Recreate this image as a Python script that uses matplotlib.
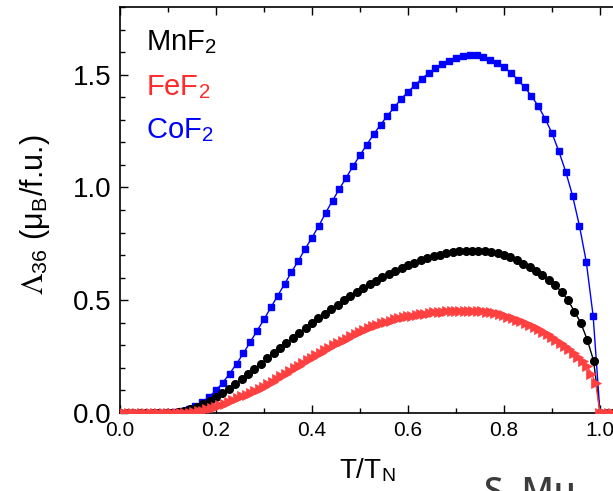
import numpy as np
import matplotlib
matplotlib.use("Agg")
import matplotlib.pyplot as plt
from matplotlib.ticker import MultipleLocator, FormatStrFormatter

plt.rcParams['font.family'] = ['Liberation Sans', 'DejaVu Sans']
plt.rcParams['mathtext.fontset'] = 'stix'

# CoF2 (blue squares), sampled every 1/70 in T/TN
cof2 = [0, 0, 0, 0, 0, 0, 0, 0.001, 0.003, 0.008,
        0.017, 0.030, 0.048, 0.072, 0.100, 0.135, 0.175, 0.218, 0.265, 0.315,
        0.365, 0.415, 0.468, 0.520, 0.572, 0.624, 0.675, 0.727, 0.778, 0.830,
        0.888, 0.942, 0.994, 1.044, 1.095, 1.143, 1.190, 1.236, 1.278, 1.318,
        1.355, 1.392, 1.424, 1.453, 1.482, 1.506, 1.528, 1.547, 1.562, 1.574,
        1.582, 1.585, 1.585, 1.578, 1.567, 1.553, 1.533, 1.508, 1.478, 1.444,
        1.406, 1.360, 1.305, 1.240, 1.160, 1.070, 0.963, 0.830, 0.670, 0.430,
        0, 0, 0]

# MnF2 (black circles), sampled every 1/75
mnf2 = [0, 0, 0, 0, 0, 0, 0, 0.001, 0.002, 0.005,
        0.010, 0.017, 0.027, 0.039, 0.053, 0.070, 0.088, 0.107, 0.128, 0.150,
        0.172, 0.195, 0.218, 0.242, 0.265, 0.288, 0.311, 0.333, 0.355, 0.377,
        0.398, 0.419, 0.440, 0.460, 0.480, 0.499, 0.518, 0.536, 0.553, 0.570,
        0.586, 0.601, 0.616, 0.630, 0.643, 0.655, 0.666, 0.677, 0.686, 0.695,
        0.702, 0.708, 0.713, 0.717, 0.719, 0.720, 0.720, 0.718, 0.714, 0.708,
        0.700, 0.690, 0.677, 0.662, 0.647, 0.630, 0.610, 0.590, 0.567, 0.537,
        0.500, 0.450, 0.400, 0.325, 0.232, 0, 0, 0]

# FeF2 (red triangles), sampled every 1/110
fef2 = [0, 0, 0, 0, 0, 0, 0, 0, 0, 0,
        0, 0, 0, 0, 0, 0, 0.001, 0.003, 0.007, 0.011,
        0.016, 0.022, 0.028, 0.035, 0.042, 0.050, 0.058, 0.066, 0.074, 0.082,
        0.090, 0.098, 0.107, 0.115, 0.127, 0.139, 0.151, 0.163, 0.175, 0.186,
        0.198, 0.210, 0.222, 0.234, 0.245, 0.256, 0.267, 0.278, 0.289, 0.300,
        0.310, 0.320, 0.330, 0.340, 0.350, 0.360, 0.368, 0.376, 0.384, 0.391,
        0.398, 0.404, 0.410, 0.415, 0.420, 0.425, 0.429, 0.432, 0.435, 0.438,
        0.441, 0.444, 0.446, 0.448, 0.450, 0.451, 0.452, 0.453, 0.454, 0.454,
        0.454, 0.454, 0.453, 0.451, 0.449, 0.446, 0.442, 0.438, 0.433, 0.427,
        0.421, 0.414, 0.406, 0.398, 0.390, 0.381, 0.371, 0.360, 0.349, 0.337,
        0.324, 0.311, 0.297, 0.282, 0.266, 0.250, 0.232, 0.210, 0.175, 0.135,
        0, 0, 0, 0]

x_cof2 = np.arange(len(cof2)) / 70
x_mnf2 = np.arange(len(mnf2)) / 75
x_fef2 = np.arange(len(fef2)) / 110

fig = plt.figure(figsize=(6.13, 4.91), dpi=100)
ax = fig.add_axes([120/613, 78/491, 528/613, 406/491])

ax.plot(x_cof2, cof2, color='#0000ff', lw=1.0, marker='s', ms=4.5, zorder=2)
ax.plot(x_mnf2, mnf2, color='black', lw=1.0, marker='o', ms=5.5, zorder=3)
ax.plot(x_fef2, fef2, color='#ff4040', lw=1.0, marker='>', ms=6.5, mew=0.5, zorder=4)

ax.set_xlim(0, 1.1)
ax.set_ylim(0, 1.8)
ax.xaxis.set_major_locator(MultipleLocator(0.2))
ax.xaxis.set_minor_locator(MultipleLocator(0.1))
ax.yaxis.set_major_locator(MultipleLocator(0.5))
ax.yaxis.set_minor_locator(MultipleLocator(0.1))
ax.xaxis.set_major_formatter(FormatStrFormatter('%.1f'))
ax.yaxis.set_major_formatter(FormatStrFormatter('%.1f'))
ax.tick_params(which='both', direction='in', top=True, right=False, width=1)
ax.tick_params(which='major', length=6)
ax.tick_params(which='minor', length=3.5)
ax.tick_params(axis='y', labelsize=20, pad=6)
ax.tick_params(axis='x', labelsize=15, pad=6)
for s in ax.spines.values():
    s.set_linewidth(1.2)

ax.set_xlabel('T/T$_\\mathregular{N}$', fontsize=20)
ax.xaxis.set_label_coords((367 - 120) / 528, -(457 - 413) / 406)

fig.text(35/613, 1 - 215/491,
         '$\\Lambda_{\\mathregular{36}}$ (μ$_\\mathregular{B}$/f.u.)',
         rotation=90, ha='center', va='center', fontsize=22)

fig.text(146/613, 1 - 50/491, 'MnF$_\\mathregular{2}$', color='black', fontsize=21, va='baseline')
fig.text(146/613, 1 - 95/491, 'FeF$_\\mathregular{2}$', color='#ff2a2a', fontsize=21, va='baseline')
fig.text(146/613, 1 - 138/491, 'CoF$_\\mathregular{2}$', color='#0000ff', fontsize=21, va='baseline')

fig.text(484/613, 1 - 476/491, 'S. Mu', color='#3c3c3c', fontsize=25,
         family='Open Sans', weight='semibold', va='top')

fig.savefig('out.png', dpi=100)
